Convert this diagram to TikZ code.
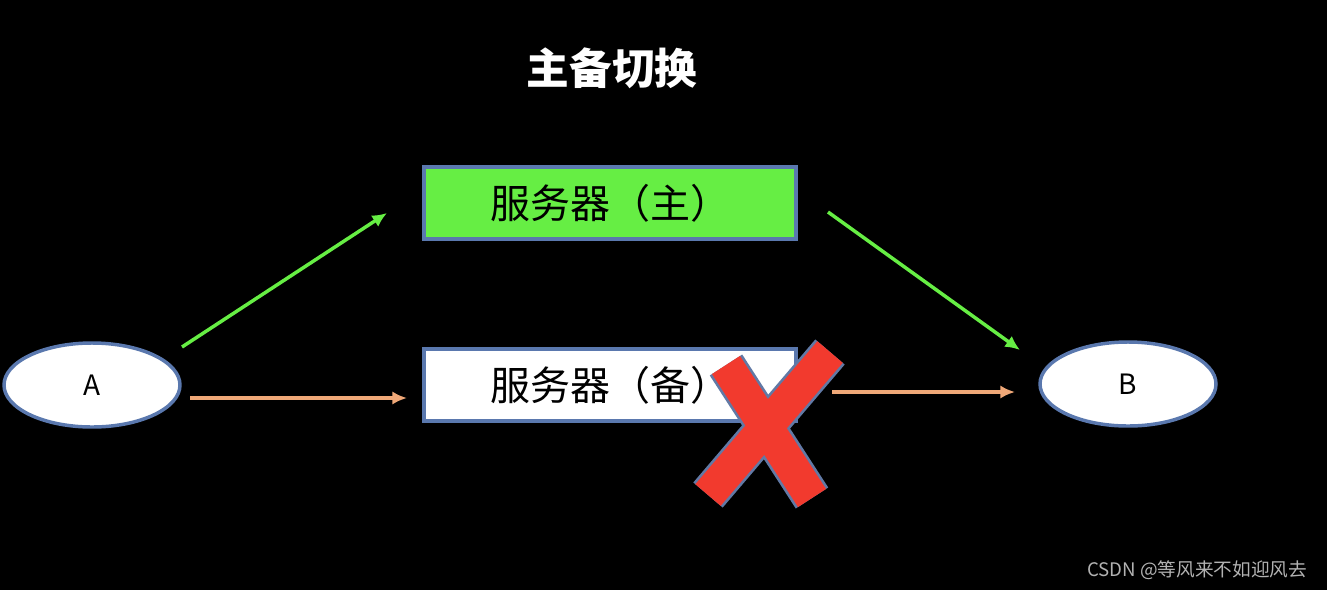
\documentclass[tikz,border=0pt]{standalone}
\usepackage{fontspec}
\setmainfont{Noto Sans CJK SC}
\usetikzlibrary{arrows.meta,shapes.geometric}
\definecolor{bord}{HTML}{5A78AE}
\definecolor{grn}{HTML}{66EE44}
\definecolor{org}{HTML}{F0A878}
\definecolor{xred}{HTML}{F23A2E}
\tikzset{
 box/.style={draw=bord,line width=3pt,minimum width={372*0.75pt},minimum height={72*0.75pt},inner sep=0pt,font=\fontsize{30}{30}\selectfont},
 ell/.style={ellipse,draw=bord,fill=white,line width=2.6pt,minimum width={176*0.75pt},minimum height={84*0.75pt},inner sep=0pt,font=\fontsize{21}{21}\selectfont},
 garr/.style={draw=grn,line width=2.6pt,-{Latex[length=11pt,width=10pt]}},
 oarr/.style={draw=org,line width=2.6pt,-{Latex[length=11pt,width=10pt]}},
 xbar/.style={line width=25pt,draw=xred}
}
\begin{document}
\begin{tikzpicture}[x=0.75pt,y=-0.75pt]
\fill[black] (0,0) rectangle (1327,590);
\useasboundingbox (0,0) rectangle (1327,590);
\node[text=white,font=\fontsize{32}{32}\selectfont\bfseries] (title) at (612,68) {主备切换};
\node[box,fill=grn] (main) at (610,203) {服务器（主）};
\node[box,fill=white] (bak) at (610,385) {服务器（备）};
\node[ell] (A) at (92,385) {A};
\node[ell] (B) at (1128,384) {B};
\coordinate (a1) at (182,347); \coordinate (m1) at (387,213);
\coordinate (m2) at (828,212); \coordinate (b1) at (1020,350);
\coordinate (a2) at (190,398); \coordinate (k1) at (407,398);
\coordinate (k2) at (832,392); \coordinate (b2) at (1015,392);
\draw[garr] (a1) -- (m1);
\draw[garr] (m2) -- (b1);
\draw[oarr] (a2) -- (k1);
\draw[oarr] (k2) -- (b2);
\coordinate (x1) at (726,365); \coordinate (x2) at (812,498);
\coordinate (x3) at (830,352); \coordinate (x4) at (708,495);
\draw[line width=29pt,draw=bord!80!gray] (x1) -- (x2) (x3) -- (x4);
\draw[xbar] (x1) -- (x2) (x3) -- (x4);
\node[text=gray!60,font=\fontsize{14}{14}\selectfont,anchor=east] (wm) at (1312,570) {CSDN @等风来不如迎风去};
\end{tikzpicture}
\end{document}
